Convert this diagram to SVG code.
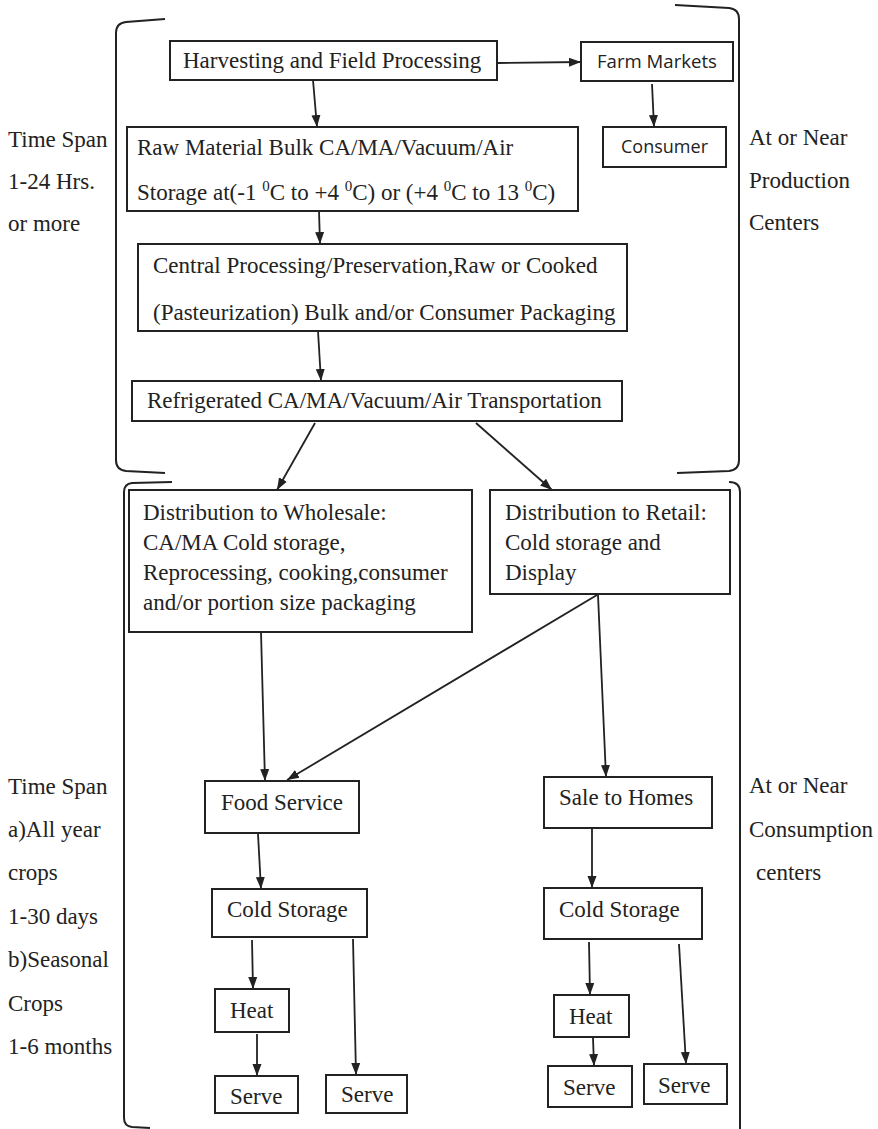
<svg xmlns="http://www.w3.org/2000/svg" width="878" height="1129" viewBox="0 0 878 1129">
<style>
.box{fill:#fff;stroke:#222;stroke-width:2}
.t{font-family:"Liberation Serif","Times New Roman",serif;font-size:23px;fill:#222}
.s{font-family:"Open Sans","Liberation Sans",sans-serif;font-size:18px;fill:#222}
.sup{font-size:15px}
.c{fill:none;stroke:#222;stroke-width:1.8}
.br{fill:none;stroke:#222;stroke-width:2}
</style>
<defs>
<marker id="ah" markerUnits="userSpaceOnUse" markerWidth="12" markerHeight="12" viewBox="0 0 12 12" refX="12" refY="6" orient="auto">
<path d="M0,1.5 L12,6 L0,10.5 Z" fill="#222"/>
</marker>
</defs>
<rect width="878" height="1129" fill="#fff"/>

<g id="brackets">
<path class="br" d="M165,19 L126,22 Q116,23 116,33 L116,460 Q116,470 126,471 L165,473"/>
<path class="br" d="M675,5 L729,8 Q739,9 739,19 L739,460 Q739,470 729,471 L677,473"/>
<path class="br" d="M172,482 L132,483 Q124,484 124,492 L124,1118 Q124,1126 132,1127 L150,1128"/>
<path class="br" d="M729,482 Q740,482 740,492 L740,1129"/>
</g>

<g id="labels">
<text class="t" x="8" y="147">Time Span</text>
<text class="t" x="8" y="189">1-24 Hrs.</text>
<text class="t" x="8" y="231">or more</text>
<text class="t" x="749" y="145">At or Near</text>
<text class="t" x="749" y="188">Production</text>
<text class="t" x="749" y="230">Centers</text>
<text class="t" x="8" y="794">Time Span</text>
<text class="t" x="8" y="837">a)All year</text>
<text class="t" x="8" y="880">crops</text>
<text class="t" x="8" y="924">1-30 days</text>
<text class="t" x="8" y="967">b)Seasonal</text>
<text class="t" x="8" y="1011">Crops</text>
<text class="t" x="8" y="1054">1-6 months</text>
<text class="t" x="749" y="793">At or Near</text>
<text class="t" x="749" y="837">Consumption</text>
<text class="t" x="756" y="880">centers</text>
</g>

<g id="connectors">
<line class="c" x1="497" y1="63" x2="581" y2="62" marker-end="url(#ah)"/>
<line class="c" x1="652" y1="84" x2="654" y2="127" marker-end="url(#ah)"/>
<line class="c" x1="313" y1="80" x2="317" y2="127" marker-end="url(#ah)"/>
<line class="c" x1="319" y1="211" x2="320" y2="244" marker-end="url(#ah)"/>
<line class="c" x1="318" y1="331" x2="321" y2="381" marker-end="url(#ah)"/>
<line class="c" x1="315" y1="423" x2="277" y2="490" marker-end="url(#ah)"/>
<line class="c" x1="476" y1="423" x2="552" y2="490" marker-end="url(#ah)"/>
<line class="c" x1="261" y1="632" x2="265" y2="781" marker-end="url(#ah)"/>
<line class="c" x1="597" y1="595" x2="287" y2="780" marker-end="url(#ah)"/>
<line class="c" x1="598" y1="595" x2="606" y2="777" marker-end="url(#ah)"/>
<line class="c" x1="258" y1="834" x2="261" y2="889" marker-end="url(#ah)"/>
<line class="c" x1="252" y1="940" x2="253" y2="989" marker-end="url(#ah)"/>
<line class="c" x1="257" y1="1034" x2="257" y2="1076" marker-end="url(#ah)"/>
<line class="c" x1="353" y1="939" x2="356" y2="1075" marker-end="url(#ah)"/>
<line class="c" x1="592" y1="829" x2="592" y2="888" marker-end="url(#ah)"/>
<line class="c" x1="589" y1="942" x2="590" y2="995" marker-end="url(#ah)"/>
<line class="c" x1="593" y1="1038" x2="594" y2="1066" marker-end="url(#ah)"/>
<line class="c" x1="679" y1="944" x2="686" y2="1064" marker-end="url(#ah)"/>
</g>

<g id="harvesting">
<rect class="box" x="170" y="41" width="327" height="39"/>
<text class="t" x="183" y="68">Harvesting and Field Processing</text>
</g>
<g id="farm-markets">
<rect class="box" x="581" y="42" width="152" height="39"/>
<text class="s" x="597" y="68" textLength="120" lengthAdjust="spacingAndGlyphs">Farm Markets</text>
</g>
<g id="consumer">
<rect class="box" x="603" y="127" width="123" height="40"/>
<text class="s" x="621" y="153" textLength="87" lengthAdjust="spacingAndGlyphs">Consumer</text>
</g>
<g id="raw-storage">
<rect class="box" x="127" y="127" width="451" height="84"/>
<text class="t" x="137" y="155">Raw Material Bulk CA/MA/Vacuum/Air</text>
<text class="t" x="137" y="200">Storage at(-1 <tspan class="sup" dy="-9">0</tspan><tspan dy="9">C to +4 </tspan><tspan class="sup" dy="-9">0</tspan><tspan dy="9">C) or (+4 </tspan><tspan class="sup" dy="-9">0</tspan><tspan dy="9">C to 13 </tspan><tspan class="sup" dy="-9">0</tspan><tspan dy="9">C)</tspan></text>
</g>
<g id="central-processing">
<rect class="box" x="138" y="244" width="489" height="87"/>
<text class="t" x="153" y="273">Central Processing/Preservation,Raw or Cooked</text>
<text class="t" x="153" y="320">(Pasteurization) Bulk and/or Consumer Packaging</text>
</g>
<g id="transportation">
<rect class="box" x="132" y="381" width="490" height="40"/>
<text class="t" x="147" y="408">Refrigerated CA/MA/Vacuum/Air Transportation</text>
</g>
<g id="wholesale">
<rect class="box" x="129" y="490" width="343" height="142"/>
<text class="t" x="143" y="520">Distribution to Wholesale:</text>
<text class="t" x="143" y="550">CA/MA Cold storage,</text>
<text class="t" x="143" y="580">Reprocessing, cooking,consumer</text>
<text class="t" x="143" y="610">and/or portion size packaging</text>
</g>
<g id="retail">
<rect class="box" x="490" y="490" width="240" height="104"/>
<text class="t" x="505" y="520">Distribution to Retail:</text>
<text class="t" x="505" y="550">Cold storage and</text>
<text class="t" x="505" y="580">Display</text>
</g>
<g id="food-service">
<rect class="box" x="205" y="781" width="154" height="52"/>
<text class="t" x="221" y="810">Food Service</text>
</g>
<g id="sale-homes">
<rect class="box" x="544" y="777" width="168" height="51"/>
<text class="t" x="559" y="805">Sale to Homes</text>
</g>
<g id="cold-storage-l">
<rect class="box" x="212" y="889" width="155" height="48"/>
<text class="t" x="227" y="917">Cold Storage</text>
</g>
<g id="cold-storage-r">
<rect class="box" x="544" y="888" width="158" height="51"/>
<text class="t" x="559" y="917">Cold Storage</text>
</g>
<g id="heat-l">
<rect class="box" x="215" y="989" width="74" height="43"/>
<text class="t" x="230" y="1018">Heat</text>
</g>
<g id="heat-r">
<rect class="box" x="554" y="995" width="75" height="42"/>
<text class="t" x="569" y="1024">Heat</text>
</g>
<g id="serve-l1">
<rect class="box" x="215" y="1076" width="83" height="37"/>
<text class="t" x="230" y="1104">Serve</text>
</g>
<g id="serve-l2">
<rect class="box" x="326" y="1075" width="81" height="38"/>
<text class="t" x="341" y="1102">Serve</text>
</g>
<g id="serve-r1">
<rect class="box" x="548" y="1066" width="84" height="41"/>
<text class="t" x="563" y="1095">Serve</text>
</g>
<g id="serve-r2">
<rect class="box" x="644" y="1064" width="83" height="40"/>
<text class="t" x="658" y="1093">Serve</text>
</g>
</svg>
